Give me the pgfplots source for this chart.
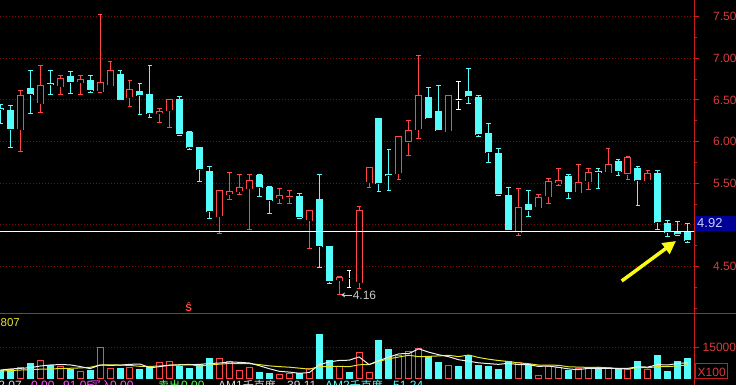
\documentclass[border=0pt]{standalone}
\usepackage{fontspec}
\setmainfont{Liberation Sans}
\newfontfamily\cjk{Noto Sans CJK SC}
\usepackage{pgfplots}
\pgfplotsset{compat=1.18}
\usepackage{pgfplotstable}
\usepgfplotslibrary{statistics}
\usetikzlibrary{arrows.meta}

\definecolor{upred}{RGB}{255,70,70}
\definecolor{dncyan}{RGB}{84,252,252}
\definecolor{gridred}{RGB}{135,10,10}
\definecolor{axred}{RGB}{200,30,30}
\definecolor{lblred}{RGB}{215,60,60}
\definecolor{boxblue}{RGB}{0,0,150}
\definecolor{boxtxt}{RGB}{205,205,255}
\definecolor{maline}{RGB}{240,240,240}
\definecolor{mayel}{RGB}{230,230,40}
\definecolor{arrowyel}{RGB}{250,250,20}
\definecolor{mag}{RGB}{255,80,255}
\definecolor{grn}{RGB}{80,255,80}
\definecolor{txtw}{RGB}{215,215,215}
\definecolor{lgray}{RGB}{200,200,200}

\newcommand\fs[1]{\fontsize{#1}{#1}\selectfont}

% candles: k, body bottom, body top, low, high, type (0 up/red, 1 down/cyan, 2 flat/white)
\pgfplotstableread{
k lo hi L H t
0 6.385 6.395 6.22 6.45 1
1 6.152 6.368 5.928 6.428 1
2 6.144 6.556 5.88 6.612 0
3 6.564 6.64 6.332 6.852 1
4 6.456 6.676 6.348 6.908 0
5 6.684 6.692 6.564 6.848 1
6 6.66 6.752 6.564 6.796 0
7 6.716 6.776 6.572 6.836 1
8 6.708 6.74 6.564 6.796 0
9 6.612 6.728 6.588 6.796 1
10 6.6 6.712 6.59 7.524 0
11 6.676 6.848 6.67 6.956 0
12 6.5 6.8 6.488 6.852 1
13 6.528 6.62 6.42 6.728 0
14 6.552 6.596 6.324 6.692 1
15 6.336 6.56 6.288 6.912 1
16 6.336 6.364 6.228 6.392 0
17 6.376 6.5 6.168 6.5 0
18 6.092 6.5 6.072 6.544 1
19 5.932 6.104 5.904 6.116 1
20 5.664 5.924 5.516 5.93 1
21 5.16 5.636 5.076 5.696 1
22 5.1 5.416 4.9 5.416 0
23 5.368 5.404 5.3 5.624 0
24 5.4 5.444 5.36 5.604 0
25 5.44 5.536 4.94 5.604 0
26 5.448 5.588 5.34 5.604 1
27 5.292 5.452 5.14 5.46 1
28 5.316 5.356 5.256 5.44 0
29 5.336 5.344 5.26 5.412 0
30 5.088 5.344 5.076 5.38 1
31 5.052 5.176 4.712 5.176 0
32 4.74 5.3 4.488 5.604 1
33 4.328 4.736 4.292 4.736 1
34 4.332 4.368 4.16 4.384 0
35 4.36 4.36 4.252 4.452 2
36 4.308 5.176 4.236 5.216 0
37 5.508 5.692 5.452 5.692 0
38 5.496 6.272 5.396 6.272 1
39 5.592 5.6 5.412 5.9 1
40 5.616 6.056 5.54 6.056 0
41 5.996 6.132 5.832 6.256 0
42 6.148 6.556 6.036 7.028 0
43 6.276 6.532 6.276 6.652 1
44 6.132 6.364 6.132 6.676 1
45 6.124 6.556 6.124 6.556 0
46 6.5 6.5 6.388 6.716 2
47 6.54 6.596 6.456 6.872 1
48 6.084 6.524 6.06 6.556 1
49 5.868 6.092 5.748 6.212 1
50 5.372 5.86 5.352 5.92 1
51 4.94 5.348 4.94 5.452 1
52 4.912 5.204 4.872 5.44 0
53 5.18 5.248 5.1 5.416 1
54 5.208 5.324 5.208 5.368 0
55 5.34 5.516 5.256 5.56 0
56 5.5 5.528 5.468 5.672 0
57 5.396 5.58 5.312 5.6 1
58 5.388 5.512 5.388 5.724 0
59 5.52 5.624 5.428 5.68 0
60 5.632 5.64 5.436 5.676 1
61 5.628 5.728 5.628 5.912 0
62 5.644 5.756 5.588 5.78 1
63 5.612 5.804 5.548 5.82 0
64 5.536 5.68 5.228 5.696 1
65 5.532 5.612 5.532 5.656 0
66 5.032 5.612 4.94 5.656 1
67 4.908 5.02 4.864 5.048 1
68 4.884 4.916 4.876 5.04 1
69 4.816 4.904 4.792 5.02 1
}\candles

\pgfplotstableread{
k v
2 5590
4 8940
6 5900
8 3670
10 15160
11 5110
13 5590
16 7980
17 8620
22 9900
23 8620
24 4310
25 5590
28 2390
29 2550
31 5000
34 6060
36 12770
37 3350
40 11170
41 13400
42 14680
45 6540
52 8140
54 1760
55 5750
56 5590
58 4950
59 4950
61 5590
63 4790
65 4790
}\volup

\pgfplotstableread{
k v
0 4150
1 4790
3 7660
5 6540
7 4790
9 3990
12 5270
14 4790
15 6060
18 6060
19 5270
20 7180
21 9900
26 3350
27 2710
30 2700
32 21550
33 9100
35 3350
38 18670
39 14360
43 10690
44 8140
46 6060
47 11330
48 6700
49 6220
50 4790
51 8620
53 6860
57 4310
60 5430
62 4790
64 8620
66 11490
67 3830
68 8620
69 10050
}\voldn

\pgfplotstableread{
k ma5 ma10
0 4310 3830
1 4800 4050
2 5100 4300
3 5430 4500
4 6226 4700
5 6704 4800
6 6926 5000
7 6766 5150
8 5968 5300
9 4978 5602
10 6702 6703
11 6544 6735
12 6640 6703
13 7024 6496
14 7184 6081
15 5364 6033
16 5938 6241
17 6608 6624
18 6702 6863
19 6798 6991
20 7022 6193
21 7406 6672
22 7662 7135
23 8174 7438
24 7982 7390
25 7664 7343
26 6354 6880
27 4916 6289
28 3670 5922
29 3318 5650
30 2740 5202
31 3070 4712
32 6838 5877
33 8180 5925
34 8882 6100
35 9012 5876
36 10566 6818
37 6926 6882
38 8840 8510
39 10500 9691
40 12064 10538
41 12190 11378
42 14456 10691
43 12860 10850
44 11616 11058
45 10690 11377
46 9222 10706
47 8552 11504
48 7754 10307
49 7370 9493
50 7020 8855
51 7532 8377
52 6894 7723
53 6926 7340
54 6034 6702
55 6226 6623
56 5620 6576
57 4854 5874
58 4472 5699
59 5110 5572
60 5046 5636
61 5046 5333
62 5142 4998
63 5110 4791
64 5844 5477
65 5716 5381
66 6896 5971
67 6704 5923
68 7470 6290
69 7756 6800
}\mavol

\pgfplotsset{
  c0/.style={/pgfplots/boxplot/every whisker/.style={draw=upred,line width=1pt},
             /pgfplots/boxplot/every box/.style={draw=upred,fill=black,line width=1pt}},
  c1/.style={/pgfplots/boxplot/every whisker/.style={draw=dncyan,line width=1pt},
             /pgfplots/boxplot/every box/.style={draw=dncyan,fill=dncyan,line width=1pt}},
  c2/.style={/pgfplots/boxplot/every whisker/.style={draw=white,line width=1pt},
             /pgfplots/boxplot/every box/.style={draw=white,fill=white,line width=1pt}},
}

\begin{document}
\begin{tikzpicture}[x=1pt,y=1pt]
\useasboundingbox (0,0) rectangle (736,385);
\clip (0,0) rectangle (736,385);
\fill[black] (0,0) rectangle (736,385);

% ---------------- price panel ----------------
\begin{axis}[
  at={(0pt,71pt)}, anchor=south west, scale only axis,
  width=694pt, height=314pt,
  xmin=-0.05, xmax=69.63, ymin=3.931, ymax=7.70,
  axis x line=none, axis y line*=right,
  y axis line style={draw=axred, line width=1pt, -},
  ytick={4.5,5,5.5,6,6.5,7,7.5},
  yticklabels={4.50,,5.50,6.00,6.50,7.00,7.50},
  minor ytick={4,4.25,4.75,5.25,5.75,6.25,6.75,7.25},
  tick align=outside, major tick length=5pt, minor tick length=3pt,
  tick style={draw=axred, line width=1pt},
  yticklabel style={font=\fs{12}, text=lblred, anchor=west, inner sep=0pt, xshift=14pt},
  ymajorgrids, grid style={draw=gridred, line width=1pt, dash pattern=on 1pt off 2pt},
  boxplot/draw direction=y,
  boxplot/box extend=0.6,
  boxplot/draw/.code={%
    \draw[/pgfplots/boxplot/every whisker/.try]
      (boxplot box cs:\pgfplotsboxplotvalue{lower whisker},0.5) --
      (boxplot box cs:\pgfplotsboxplotvalue{upper whisker},0.5);
    \draw[/pgfplots/boxplot/every box/.try]
      (boxplot box cs:\pgfplotsboxplotvalue{lower quartile},0) rectangle
      (boxplot box cs:\pgfplotsboxplotvalue{upper quartile},1);
  },
]
\pgfplotsinvokeforeach{0,...,69}{%
  \pgfplotstablegetelem{#1}{lo}\of\candles \let\bLo\pgfplotsretval
  \pgfplotstablegetelem{#1}{hi}\of\candles \let\bHi\pgfplotsretval
  \pgfplotstablegetelem{#1}{L}\of\candles \let\wL\pgfplotsretval
  \pgfplotstablegetelem{#1}{H}\of\candles \let\wH\pgfplotsretval
  \pgfplotstablegetelem{#1}{t}\of\candles \let\cT\pgfplotsretval
  \edef\doit{\noexpand\addplot[c\cT, boxplot prepared={draw position=#1,
      lower whisker=\wL, lower quartile=\bLo, median=\bLo,
      upper quartile=\bHi, upper whisker=\wH}] coordinates {};}%
  \doit
}
\addplot[white, line width=1pt] coordinates {(-1,4.925) (70,4.925)};
% low annotation
\draw[lgray, line width=0.8pt, -{Stealth[length=4pt,width=5pt]}] (axis cs:35.25,4.16) -- (axis cs:34.2,4.16);
\node[anchor=west, inner sep=0pt, text=lgray, font=\fs{12}] at (axis cs:35.35,4.155) {4.16};
% signal marker
\node[text=upred, inner sep=0pt, font=\bfseries\fs{10}] at (axis cs:18.9,4.01) {Ŝ};
% yellow arrow
\draw[arrowyel, line width=3.5pt, -{Triangle[length=13pt,width=13pt]}] (axis cs:62.37,4.327) -- (axis cs:67.82,4.807);
\end{axis}

% ---------------- volume panel ----------------
\begin{axis}[
  at={(0pt,0pt)}, anchor=south west, scale only axis,
  width=694pt, height=71pt,
  xmin=-0.05, xmax=69.63, ymin=-2875, ymax=31150,
  axis x line=none, axis y line*=right,
  y axis line style={draw=axred, line width=1pt, -},
  ytick={15000}, yticklabels={15000}, scaled y ticks=false,
  tick align=outside, major tick length=5pt,
  tick style={draw=axred, line width=1pt},
  yticklabel style={font=\fs{12}, text=lblred, anchor=west, inner sep=0pt, xshift=3.5pt},
  ymajorgrids, grid style={draw=gridred, line width=1pt, dash pattern=on 1pt off 2pt},
]
\addplot[ybar, bar width=6pt, bar shift=0pt, draw=upred, fill=black, line width=1pt] table[x=k,y=v]{\volup};
\addplot[ybar, bar width=6pt, bar shift=0pt, draw=dncyan, fill=dncyan, line width=1pt] table[x=k,y=v]{\voldn};
\addplot[mayel, line width=1pt] table[x=k,y=ma10]{\mavol};
\addplot[maline, line width=1pt] table[x=k,y=ma5]{\mavol};
\end{axis}

% ---------------- frame decorations ----------------
\draw[axred, line width=1pt] (0,71) -- (736,71);
\fill[boxblue] (695,154) rectangle (740,169);
\node[anchor=base west, inner sep=0pt, text=boxtxt, font=\fs{13}] at (697,157) {4.92};
\draw[axred, line width=1pt] (695.5,6) rectangle (727,21);
\node[anchor=base west, inner sep=0pt, text=lblred, font=\fs{12}] at (697.5,8.5) {X100};
\node[anchor=base west, inner sep=0pt, text=mayel, font=\fs{11.5}] at (0.5,58) {807};

\begin{scope}[every node/.style={anchor=base west, inner sep=0pt}, font=\fs{12}]
\node[anchor=base east, text=txtw] at (22,-4.5) {2.07};
\node[text=mag] at (31,-4.5) {0.00};
\node[text=mag] at (63,-4.5) {91.05};
\node[text=mag] at (90,-4.5) {\cjk\fs{11}买入};
\node[text=mag] at (110,-4.5) {0.00};
\node[text=grn] at (158,-4.5) {\cjk\fs{11}卖出};
\node[text=grn] at (181,-4.5) {0.00};
\node[text=txtw] at (218,-4.5) {AM1{\cjk\fs{11}千克度}};
\node[text=txtw] at (287,-4.5) {39.11};
\node[text=dncyan] at (325,-4.5) {AM2{\cjk\fs{11}千克度}};
\node[text=dncyan] at (393,-4.5) {51.24};
\end{scope}
\end{tikzpicture}
\end{document}
